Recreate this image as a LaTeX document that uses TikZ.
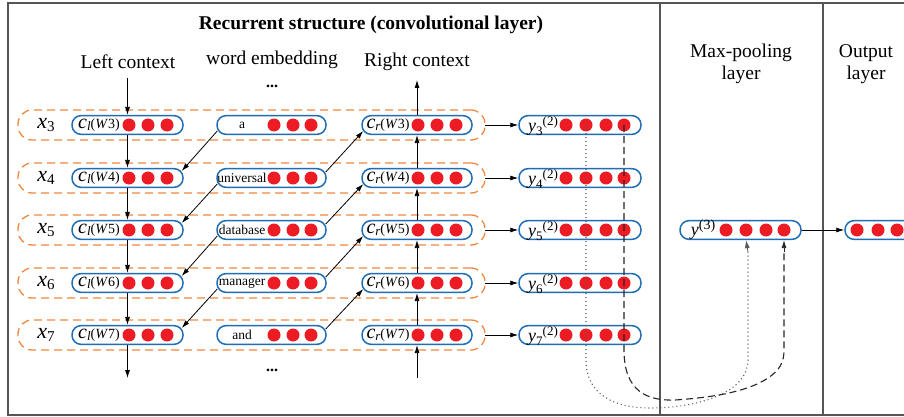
\documentclass[tikz,border=0pt]{standalone}
\usepackage{fontspec}
\setmainfont{Liberation Serif}
\usetikzlibrary{arrows.meta,calc}
\definecolor{bboxblue}{HTML}{1F6DB5}
\definecolor{dotred}{HTML}{ED1C24}
\definecolor{dorange}{HTML}{F0883E}
\definecolor{framegray}{HTML}{555555}
\newcommand{\fsz}[1]{\fontsize{#1}{#1}\selectfont}
\begin{document}
\begin{tikzpicture}[x=1pt,y=-1pt,
  vbox/.style={draw=bboxblue, line width=1.5pt, rounded corners=9pt, minimum height=18.7pt, inner sep=0pt},
  rdot/.style={circle, fill=dotred, minimum size=13pt, inner sep=0pt},
  rowbox/.style={draw=dorange, line width=1.3pt, dash pattern=on 8pt off 5pt, rounded corners=14pt, minimum height=30pt, inner sep=0pt},
  arr/.style={-{Latex[length=8pt,width=5pt]}, line width=0.8pt},
  lbl/.style={font=\fsz{19.5}, inner sep=0pt},
  small/.style={font=\fsz{13.5}, inner sep=0pt},
  frame/.style={draw=framegray, line width=1.5pt}
]
\path[use as bounding box] (0,0) rectangle (904,417);
\clip (0,0) rectangle (904,417);
\fill[white] (0,0) rectangle (904,417);
% frame
\draw[frame] (904,3) -- (8,3) -- (8,415) -- (904,415);
\draw[frame] (660,3) -- (660,415);
\draw[frame] (823,3) -- (823,415);
% headings
\node[font=\fsz{19.5}\bfseries, inner sep=0pt] (title) at (371,25) {Recurrent structure (convolutional layer)};
\node[lbl] (lc) at (128,62) {Left context};
\node[lbl] (wemb) at (272,60) {word embedding};
\node[lbl] (rc) at (417,62) {Right context};
\node[font=\fsz{16}\bfseries, inner sep=0pt] (dtop) at (272,86) {...};
\node[font=\fsz{16}\bfseries, inner sep=0pt] (dbot) at (272,370) {...};
\node[lbl, align=center] (mp) at (741,64) {Max-pooling\\[3pt]layer};
\node[lbl, align=center] (ol) at (866,64) {Output\\[3pt]layer};
\coordinate (ltop) at (127.5,78);
\coordinate (lbot) at (127.5,378);
\coordinate (rtop) at (417,80);
\coordinate (rbot) at (417,378);
% rows
\foreach \i/\yy/\w in {3/125/a, 4/178/universal, 5/230/database, 6/283/manager, 7/335/and} {
  \node[rowbox, minimum width=467pt] (row\i) at (251.5,\yy) {};
  \node[vbox, minimum width=111pt] (cl\i) at (127.5,\yy) {};
  \node[vbox, minimum width=109pt] (we\i) at (271.5,\yy) {};
  \node[vbox, minimum width=110pt] (cr\i) at (417,\yy) {};
  \node[vbox, minimum width=122pt] (y\i) at (580,\yy) {};
  \foreach \k/\xx in {1/129,2/148,3/167} {\node[rdot] (cl\i d\k) at (\xx,\yy) {};}
  \foreach \k/\xx in {1/274,2/293,3/311} {\node[rdot] (we\i d\k) at (\xx,\yy) {};}
  \foreach \k/\xx in {1/418,2/437,3/456} {\node[rdot] (cr\i d\k) at (\xx,\yy) {};}
  \foreach \k/\xx in {1/566,2/586,3/606,4/624} {\node[rdot] (y\i d\k) at (\xx,\yy) {};}
  \node[inner sep=0pt] (xl\i) at (46,\yy) {{\fsz{22}\itshape x}\raisebox{-3pt}{\fsz{15}\i}};
  \node[inner sep=0pt] (cll\i) at (99,\yy) {{\fsz{20}\itshape c}\raisebox{-2pt}{\fsz{13}\itshape l}{\fsz{14}(\textit{W}\i)}};
  \node[inner sep=0pt] (crl\i) at (388,\yy) {{\fsz{20}\itshape c}\raisebox{-2pt}{\fsz{13}\itshape r}{\fsz{14}(\textit{W}\i)}};
  \node[small] (wl\i) at (242,\yy) {\w};
  \node[inner sep=0pt] (yl\i) at (543,\yy+1) {{\fsz{18}\itshape y}\raisebox{-4pt}{\fsz{13}\i}\raisebox{6pt}{\fsz{13}(2)}};
  \coordinate (rowe\i) at (485,\yy);
}
% max pooling and output
\node[vbox, minimum width=121pt] (ym) at (740.5,230) {};
\foreach \k/\xx in {1/726,2/746,3/766,4/784} {\node[rdot] (ymd\k) at (\xx,230) {};}
\node[inner sep=0pt] (yml) at (703,230) {{\fsz{18}\itshape y}\raisebox{6pt}{\fsz{14}(3)}};
\node[vbox, minimum width=80pt] (out) at (885,230) {};
\foreach \k/\xx in {1/857,2/878,3/897} {\node[rdot] (outd\k) at (\xx,230) {};}
% vertical arrows
\draw[arr] (ltop) -- (cl3.north);
\draw[arr] (cl3.south) -- (cl4.north);
\draw[arr] (cl4.south) -- (cl5.north);
\draw[arr] (cl5.south) -- (cl6.north);
\draw[arr] (cl6.south) -- (cl7.north);
\draw[arr] (cl7.south) -- (lbot);
\draw[arr] (rbot) -- (cr7.south);
\draw[arr] (cr7.north) -- (cr6.south);
\draw[arr] (cr6.north) -- (cr5.south);
\draw[arr] (cr5.north) -- (cr4.south);
\draw[arr] (cr4.north) -- (cr3.south);
\draw[arr] (cr3.north) -- (rtop);
% diagonal arrows
\foreach \a/\b in {3/4,4/5,5/6,6/7} {
  \draw[arr] ([xshift=1pt,yshift=-6pt]we\a.west) -- ([xshift=-2pt,yshift=7pt]cl\b.east);
  \draw[arr] ([xshift=-1pt,yshift=6pt]we\b.east) -- ([xshift=2pt,yshift=-6pt]cr\a.west);
}
% to y boxes
\foreach \i in {3,...,7} {\draw[arr] (rowe\i) -- (y\i.west);}
\draw[arr] (ym.east) -- (out.west);
% pooling paths
\draw[line width=1.1pt, draw=black!85, dash pattern=on 7pt off 4pt] (y3d4.center) -- (624,350) .. controls (624,392) and (648,401) .. (675,400) .. controls (720,397) and (750,390) .. (768,378) .. controls (780,370) and (784,362) .. (784,350) -- (784,252);
\draw[arr, draw=black!85] (784,252) -- (ymd4 |- ym.south);
\draw[line width=1.1pt, draw=black!65, dash pattern=on 1pt off 3pt] (y3d2.center) -- (586,360) .. controls (586,395) and (615,408) .. (650,408) .. controls (700,408) and (748,392) .. (748,360) -- (748,252);
\draw[arr, draw=black!65] (748,252) -- (ymd2 |- ym.south);
\end{tikzpicture}
\end{document}
